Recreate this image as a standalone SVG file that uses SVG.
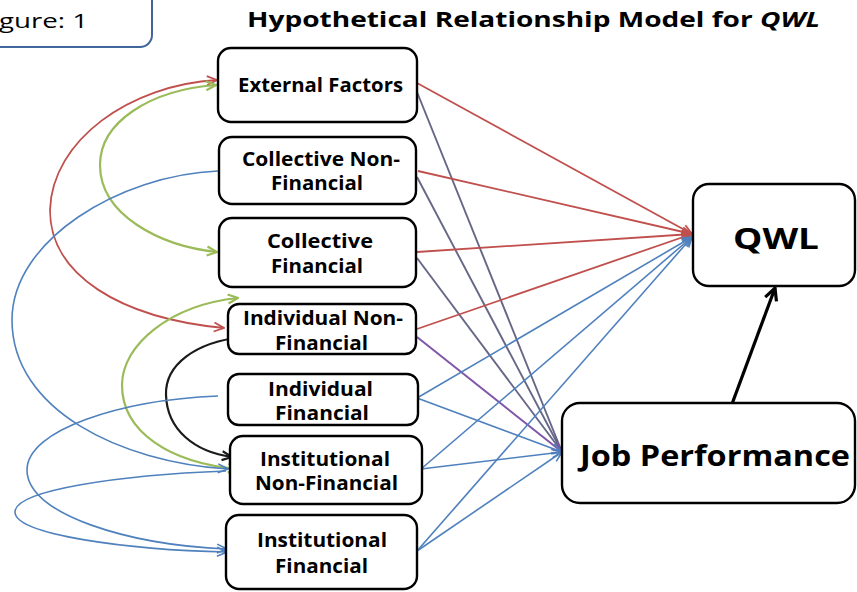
<svg xmlns="http://www.w3.org/2000/svg" width="857" height="592" viewBox="0 0 857 592">
  <style>
    .box { fill: #ffffff; stroke: #000000; stroke-width: 2.4; }
    .lbl { font-family: "Open Sans", "Liberation Sans", sans-serif; font-weight: bold; font-size: 19px; fill: #000000; }
    .big { font-family: "Open Sans", "Liberation Sans", sans-serif; font-weight: bold; font-size: 29px; fill: #000000; }
    .title { font-family: "Open Sans", "Liberation Sans", sans-serif; font-weight: bold; font-size: 21px; fill: #000000; }
    .fig { font-family: "Open Sans", "Liberation Sans", sans-serif; font-size: 20px; fill: #000000; }
    .c { fill: none; stroke-width: 1.6; }
    .red { stroke: #c0504d; stroke-width: 1.8; }
    .blue { stroke: #4f81bd; }
    .green { stroke: #9bbb59; stroke-width: 2.2; }
    .black { stroke: #1a1a1a; stroke-width: 2.2; }
    .slate { stroke: #55557a; stroke-width: 1.9; stroke-opacity: 0.9; }
    .purple { stroke: #7f56a8; stroke-width: 2; }
  </style>
  <defs>
    <marker id="ar-red" viewBox="0 0 12 12" refX="11" refY="6" markerWidth="12" markerHeight="12" orient="auto-start-reverse" markerUnits="userSpaceOnUse">
      <path d="M1,1.5 L11,6 L1,10.5" fill="none" stroke="#c0504d" stroke-width="1.8"/>
    </marker>
    <marker id="ar-blue" viewBox="0 0 12 12" refX="11" refY="6" markerWidth="12" markerHeight="12" orient="auto-start-reverse" markerUnits="userSpaceOnUse">
      <path d="M1,1.5 L11,6 L1,10.5" fill="none" stroke="#4f81bd" stroke-width="1.6"/>
    </marker>
    <marker id="ar-green" viewBox="0 0 12 12" refX="11" refY="6" markerWidth="12" markerHeight="12" orient="auto-start-reverse" markerUnits="userSpaceOnUse">
      <path d="M1,1.5 L11,6 L1,10.5" fill="none" stroke="#9bbb59" stroke-width="2.2"/>
    </marker>
    <marker id="ar-black" viewBox="0 0 12 12" refX="11" refY="6" markerWidth="12" markerHeight="12" orient="auto-start-reverse" markerUnits="userSpaceOnUse">
      <path d="M1,1.5 L11,6 L1,10.5" fill="none" stroke="#1a1a1a" stroke-width="2.2"/>
    </marker>
    <marker id="ar-slate" viewBox="0 0 12 12" refX="11" refY="6" markerWidth="12" markerHeight="12" orient="auto" markerUnits="userSpaceOnUse">
      <path d="M1,1.5 L11,6 L1,10.5" fill="none" stroke="#7f56a8" stroke-width="1.8"/>
    </marker>
    <marker id="ar-thick" viewBox="0 0 16 16" refX="14" refY="8" markerWidth="16" markerHeight="16" orient="auto" markerUnits="userSpaceOnUse">
      <path d="M2,2 L14,8 L2,14" fill="none" stroke="#000000" stroke-width="3.2"/>
    </marker>
  </defs>

  <rect width="857" height="592" fill="#ffffff"/>

  <!-- caption box and heading -->
  <g id="figure-label">
    <rect x="-20" y="-20" width="172" height="67" rx="12" fill="#ffffff" stroke="#41669a" stroke-width="2"/>
    <text class="fig" x="-1" y="28" textLength="89" lengthAdjust="spacingAndGlyphs">gure: 1</text>
  </g>
  <g id="title">
    <text class="title" x="247" y="27" textLength="573" lengthAdjust="spacingAndGlyphs">Hypothetical Relationship Model for <tspan font-style="italic">QWL</tspan></text>
  </g>

  <!-- connectors -->
  <g id="connectors">
    <!-- slate paths to Job Performance -->
    <line class="c slate" x1="417" y1="92" x2="562" y2="452"/>
    <line class="c slate" x1="417" y1="177" x2="562" y2="452"/>
    <line class="c slate" x1="417" y1="258" x2="562" y2="452"/>
    <line class="c purple" x1="417" y1="337" x2="562" y2="452" marker-end="url(#ar-slate)"/>
    <!-- red paths to QWL -->
    <line class="c red" x1="417" y1="83" x2="692" y2="234" marker-end="url(#ar-red)"/>
    <line class="c red" x1="418" y1="171" x2="692" y2="234" marker-end="url(#ar-red)"/>
    <line class="c red" x1="417" y1="252" x2="692" y2="234" marker-end="url(#ar-red)"/>
    <line class="c red" x1="417" y1="329" x2="692" y2="234" marker-end="url(#ar-red)"/>
    <!-- blue paths to QWL and Job Performance -->
    <line class="c blue" x1="417" y1="398" x2="692" y2="237" marker-end="url(#ar-blue)"/>
    <line class="c blue" x1="421" y1="469" x2="692" y2="237" marker-end="url(#ar-blue)"/>
    <line class="c blue" x1="417" y1="551" x2="692" y2="237" marker-end="url(#ar-blue)"/>
    <line class="c blue" x1="417" y1="398" x2="562" y2="452" marker-end="url(#ar-blue)"/>
    <line class="c blue" x1="421" y1="469" x2="562" y2="452" marker-end="url(#ar-blue)"/>
    <line class="c blue" x1="417" y1="551" x2="562" y2="452" marker-end="url(#ar-blue)"/>
    <!-- Job Performance to QWL -->
    <line x1="732" y1="404" x2="775" y2="288" stroke="#000000" stroke-width="3.2" marker-end="url(#ar-thick)"/>

    <!-- left-side correlation arcs -->
    <path class="c red" d="M217,80 C130,85 52,140 50,210 C50,275 120,318 224,328" marker-start="url(#ar-red)" marker-end="url(#ar-red)"/>
    <path class="c green" d="M216,85 C150,90 100,122 100,165 C100,215 160,246 217,252" marker-start="url(#ar-green)" marker-end="url(#ar-green)"/>
    <path class="c green" d="M238,298 C170,305 122,345 122,385 C122,432 170,463 238,469" marker-start="url(#ar-green)" marker-end="url(#ar-green)"/>
    <path class="c black" d="M243,337 C195,342 165,365 166,395 C167,430 195,452 232,457" marker-start="url(#ar-black)" marker-end="url(#ar-black)"/>
    <path class="c blue" d="M218,171 C120,175 12,240 12,320 C12,410 120,462 228,469" marker-end="url(#ar-blue)"/>
    <path class="c blue" d="M218,396 C120,400 27,430 27,470 C27,515 130,545 227,549" marker-end="url(#ar-blue)"/>
    <path class="c blue" d="M226,471 C120,475 15,490 15,512 C15,535 130,550 227,552" marker-end="url(#ar-blue)"/>
  </g>

  <!-- nodes -->
  <g id="external-factors">
    <rect class="box" x="218" y="48" width="199" height="74" rx="13"/>
    <text class="lbl" x="238" y="92" textLength="165" lengthAdjust="spacingAndGlyphs">External Factors</text>
  </g>
  <g id="collective-non-financial">
    <rect class="box" x="219" y="137" width="197" height="67" rx="13"/>
    <text class="lbl" x="242" y="166" textLength="158" lengthAdjust="spacingAndGlyphs">Collective Non-</text>
    <text class="lbl" x="271" y="190" textLength="92" lengthAdjust="spacingAndGlyphs">Financial</text>
  </g>
  <g id="collective-financial">
    <rect class="box" x="219" y="218" width="197" height="69" rx="13"/>
    <text class="lbl" x="267" y="248" textLength="106" lengthAdjust="spacingAndGlyphs">Collective</text>
    <text class="lbl" x="271" y="273" textLength="92" lengthAdjust="spacingAndGlyphs">Financial</text>
  </g>
  <g id="individual-non-financial">
    <rect class="box" x="228" y="304" width="188" height="50" rx="11"/>
    <text class="lbl" x="243" y="325" textLength="160" lengthAdjust="spacingAndGlyphs">Individual Non-</text>
    <text class="lbl" x="275" y="350" textLength="93" lengthAdjust="spacingAndGlyphs">Financial</text>
  </g>
  <g id="individual-financial">
    <rect class="box" x="228" y="374" width="190" height="51" rx="11"/>
    <text class="lbl" x="268" y="396" textLength="105" lengthAdjust="spacingAndGlyphs">Individual</text>
    <text class="lbl" x="275" y="420" textLength="94" lengthAdjust="spacingAndGlyphs">Financial</text>
  </g>
  <g id="institutional-non-financial">
    <rect class="box" x="230" y="436" width="192" height="68" rx="13"/>
    <text class="lbl" x="260" y="466" textLength="130" lengthAdjust="spacingAndGlyphs">Institutional</text>
    <text class="lbl" x="255" y="490" textLength="143" lengthAdjust="spacingAndGlyphs">Non-Financial</text>
  </g>
  <g id="institutional-financial">
    <rect class="box" x="226" y="515" width="191" height="74" rx="13"/>
    <text class="lbl" x="257" y="547" textLength="130" lengthAdjust="spacingAndGlyphs">Institutional</text>
    <text class="lbl" x="275" y="573" textLength="93" lengthAdjust="spacingAndGlyphs">Financial</text>
  </g>
  <g id="qwl">
    <rect class="box" x="693" y="184" width="162" height="102" rx="16"/>
    <text class="big" x="733" y="249" textLength="86" lengthAdjust="spacingAndGlyphs">QWL</text>
  </g>
  <g id="job-performance">
    <rect class="box" x="562" y="403" width="293" height="100" rx="18"/>
    <text class="big" x="580" y="466" textLength="270" lengthAdjust="spacingAndGlyphs">Job Performance</text>
  </g>
</svg>
